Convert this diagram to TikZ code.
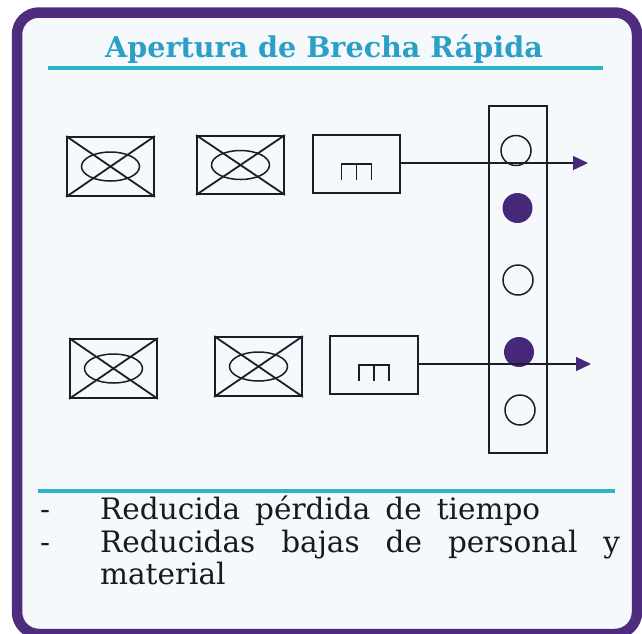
\documentclass[tikz,border=0pt]{standalone}
\usepackage{fontspec}
\setmainfont{DejaVu Serif}
\usetikzlibrary{arrows.meta,shapes.geometric}
\definecolor{framec}{HTML}{4E2D7E}
\definecolor{bgc}{HTML}{F5F9FB}
\definecolor{titlec}{HTML}{2B9FC6}
\definecolor{rulec}{HTML}{2BB3CC}
\definecolor{dotc}{HTML}{45287A}
\definecolor{inkc}{HTML}{1E1B2A}
\definecolor{textc}{HTML}{1A1A1A}
\begin{document}
\begin{tikzpicture}[x=1pt,y=-1pt,
  ink/.style={draw=inkc,line width=1.8pt},
  unitbox/.style={ink,rectangle,minimum width=87pt,minimum height=58pt,inner sep=0pt},
  oval/.style={ink,line width=1.5pt,ellipse,minimum width=58pt,minimum height=29pt,inner sep=0pt},
  ring/.style={ink,line width=1.5pt,circle,minimum size=30pt,inner sep=0pt,fill=bgc},
  dot/.style={circle,minimum size=30pt,inner sep=0pt,fill=dotc},
  link/.style={draw=inkc,line width=1.4pt,-{Triangle[length=15pt,width=14pt,color=dotc]}},
  rulebar/.style={draw=rulec,line width=4.5pt},
  bodytext/.style={anchor=base west,inner sep=0pt,font=\fontsize{29.5}{34}\selectfont,text=textc},
]
\useasboundingbox (0,0) rectangle (642,633);
\fill[white] (0,0) rectangle (642,633);
\draw[line width=10.5pt,draw=framec,fill=bgc,rounded corners=22pt] (17,12.5) rectangle (637,634);

% title
\node (title) [anchor=base,text=titlec,font=\fontsize{28.6}{32}\selectfont\bfseries,inner sep=0pt] at (324,57) {Apertura de Brecha Rápida};
\coordinate (r1a) at (48,68);
\coordinate (r1b) at (603,68);
\draw[rulebar] (r1a) -- (r1b);

% column
\node (col) [ink,line width=1.5pt,rectangle,minimum width=58pt,minimum height=347pt,inner sep=0pt] at (518,279.5) {};
\node (c1) [ring] at (516,150.5) {};
\node (c2) [dot] at (517.5,208) {};
\node (c3) [ring] at (518,280) {};
\node (c4) [dot] at (519,352) {};
\node (c5) [ring] at (520,410) {};

% row 1
\node (b11) [unitbox,minimum height=59pt] at (110.5,166.5) {};
\node (e11) [oval] at (b11.center) {};
\draw[ink] (b11.north west) -- (b11.south east);
\draw[ink] (b11.south west) -- (b11.north east);
\node (b12) [unitbox] at (240.5,165) {};
\node (e12) [oval] at (b12.center) {};
\draw[ink] (b12.north west) -- (b12.south east);
\draw[ink] (b12.south west) -- (b12.north east);
\node (b13) [unitbox] at (356.5,164) {};
\draw[ink,line width=1.5pt] (b13.center) ++(-15,16) -- ++(0,-16) -- ++(30,0) -- ++(0,16);
\draw[ink,line width=1.5pt] (b13.center) -- ++(0,16);
\coordinate (t1) at (588,163);
\draw[link] (b13.east |- t1) -- (t1);

% row 2
\node (b21) [unitbox,minimum height=59pt] at (113.5,368.5) {};
\node (e21) [oval] at (b21.center) {};
\draw[ink] (b21.north west) -- (b21.south east);
\draw[ink] (b21.south west) -- (b21.north east);
\node (b22) [unitbox,minimum height=59pt] at (258.5,366.5) {};
\node (e22) [oval] at (b22.center) {};
\draw[ink] (b22.north west) -- (b22.south east);
\draw[ink] (b22.south west) -- (b22.north east);
\node (b23) [unitbox,minimum width=88pt] at (374,365) {};
\draw[ink,line width=1.5pt] (b23.center) ++(-15,16) -- ++(0,-16) -- ++(30,0) -- ++(0,16);
\draw[ink,line width=1.5pt] (b23.center) -- ++(0,16);
\coordinate (t2) at (591,364);
\draw[link] (b23.east |- t2) -- (t2);

% bottom rule and text
\coordinate (r2a) at (38,491);
\coordinate (r2b) at (615,491);
\draw[rulebar] (r2a) -- (r2b);
\node (d1) [bodytext] at (40,519) {-};
\node (l1) [bodytext] at (100,519) {\makebox[440pt][s]{Reducida pérdida de tiempo}};
\node (d2) [bodytext] at (40,552) {-};
\node (l2) [bodytext] at (100,552) {\makebox[520pt][s]{Reducidas bajas de personal y}};
\node (l3) [bodytext] at (100,584) {material};
\end{tikzpicture}
\end{document}
